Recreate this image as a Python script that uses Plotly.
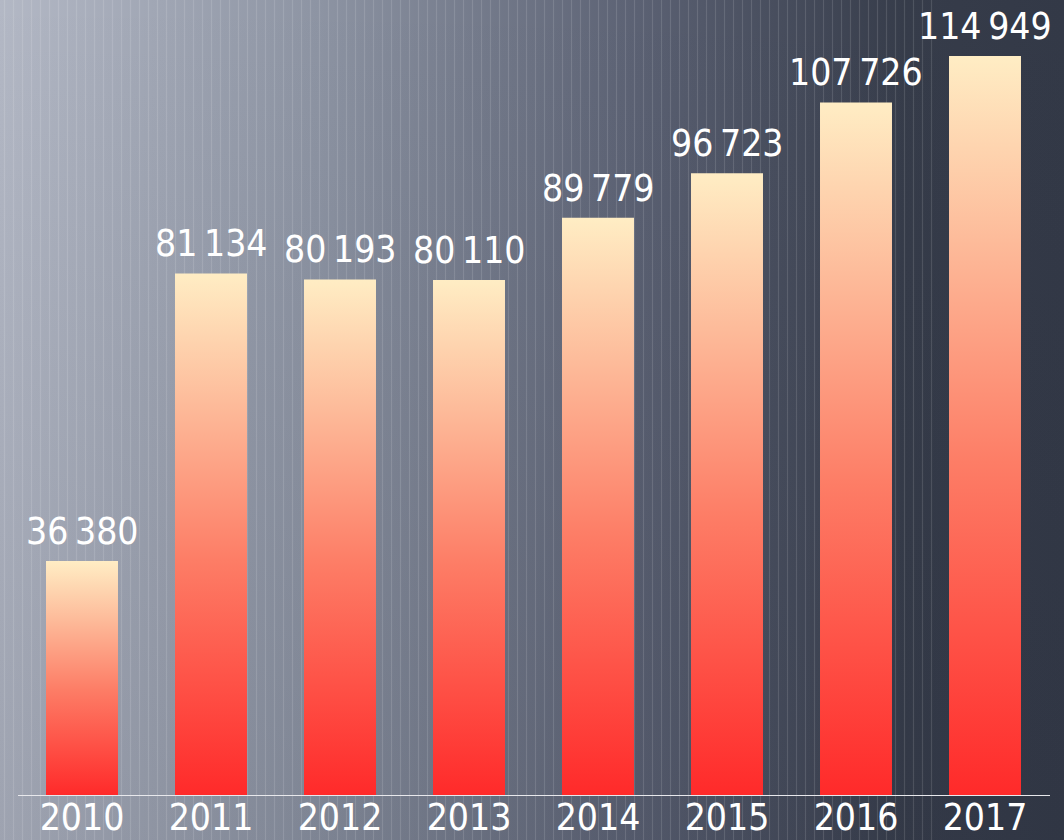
import plotly.graph_objects as go

# ---- data ----
years = ["2010", "2011", "2012", "2013", "2014", "2015", "2016", "2017"]
values = [36380, 81134, 80193, 80110, 89779, 96723, 107726, 114949]
labels = ["36\u202f380", "81\u202f134", "80\u202f193", "80\u202f110",
          "89\u202f779", "96\u202f723", "107\u202f726", "114\u202f949"]

# ---- style ----
W, H = 1064, 840
FONT = "DejaVu Sans Condensed, Liberation Sans Narrow, Roboto, sans-serif"
BAR_HALF = 0.279
bar_scale = [[0.0, "#ff2a2a"], [0.45, "#fd7d66"], [0.75, "#fdbb9a"], [1.0, "#ffedc4"]]
bg_scale = [[0.0, "#b3b8c5"], [0.3, "#8d94a3"], [0.6, "#5b6173"],
            [0.85, "#363c4a"], [1.0, "#333947"]]

fig = go.Figure()

# background (full page subplot)
fig.add_trace(go.Scatter(
    x=[0, 1, 1, 0, 0], y=[0, 0, 1, 1, 0], mode="lines", fill="toself",
    line=dict(width=0), fillgradient=dict(type="horizontal", colorscale=bg_scale),
    hoverinfo="skip", showlegend=False, xaxis="x", yaxis="y"))
fig.add_trace(go.Scatter(
    x=[0, 1, 1, 0, 0], y=[0, 0, 1, 1, 0], mode="lines", fill="toself",
    line=dict(width=0),
    fillgradient=dict(type="vertical",
                      colorscale=[[0, "rgba(30,35,50,0.14)"], [1, "rgba(30,35,50,0)"]]),
    hoverinfo="skip", showlegend=False, xaxis="x", yaxis="y"))
# faint line texture
fig.add_trace(go.Scatter(
    x=[0, 0.88, 0.88, 0, 0], y=[0, 0, 1, 1, 0], mode="lines", fill="toself",
    line=dict(width=0), fillcolor="rgba(0,0,0,0)",
    fillpattern=dict(shape="|", fgcolor="white", fgopacity=0.12, size=9, solidity=0.12),
    hoverinfo="skip", showlegend=False, xaxis="x", yaxis="y"))

# bars as gradient-filled shapes on the data axes
for i, (yr, v) in enumerate(zip(years, values)):
    fig.add_trace(go.Scatter(
        x=[i - BAR_HALF, i + BAR_HALF, i + BAR_HALF, i - BAR_HALF, i - BAR_HALF],
        y=[0, 0, v, v, 0], mode="lines", fill="toself", line=dict(width=0),
        fillgradient=dict(type="vertical", colorscale=bar_scale),
        name=yr, hovertemplate=f"{yr}: {v:,}<extra></extra>",
        showlegend=False, xaxis="x2", yaxis="y2"))

# value labels
for i, (v, lab) in enumerate(zip(values, labels)):
    fig.add_annotation(x=i, y=v, xref="x2", yref="y2", text=lab, showarrow=False,
                       yanchor="bottom", yshift=6,
                       font=dict(family=FONT, size=37, color="white"))

ppu = (795 - 56) / 114949  # pixels per unit
ymax = 795 / ppu

fig.update_layout(
    width=W, height=H, margin=dict(l=0, r=0, t=0, b=0, autoexpand=False),
    paper_bgcolor="#343a48", plot_bgcolor="rgba(0,0,0,0)",
    showlegend=False,
    xaxis=dict(domain=[0, 1], range=[0, 1], visible=False, fixedrange=True),
    yaxis=dict(domain=[0, 1], range=[0, 1], visible=False, fixedrange=True),
    xaxis2=dict(domain=[17.5 / W, 1049.5 / W], range=[-0.5, 7.5], anchor="y2",
                tickmode="array", tickvals=list(range(len(years))), ticktext=years,
                showgrid=False, zeroline=False, showline=True, linecolor="#e8e8ec",
                linewidth=1, ticks="", ticklabelstandoff=-10, automargin=False,
                tickfont=dict(family=FONT, size=37, color="white")),
    yaxis2=dict(domain=[45 / H, 1], range=[0, ymax], anchor="x2", visible=False,
                showgrid=False, zeroline=False, automargin=False),
)

fig.write_html("out.html", config={"displayModeBar": False},
               post_script="document.body.style.margin='0';document.body.style.overflow='hidden';")
